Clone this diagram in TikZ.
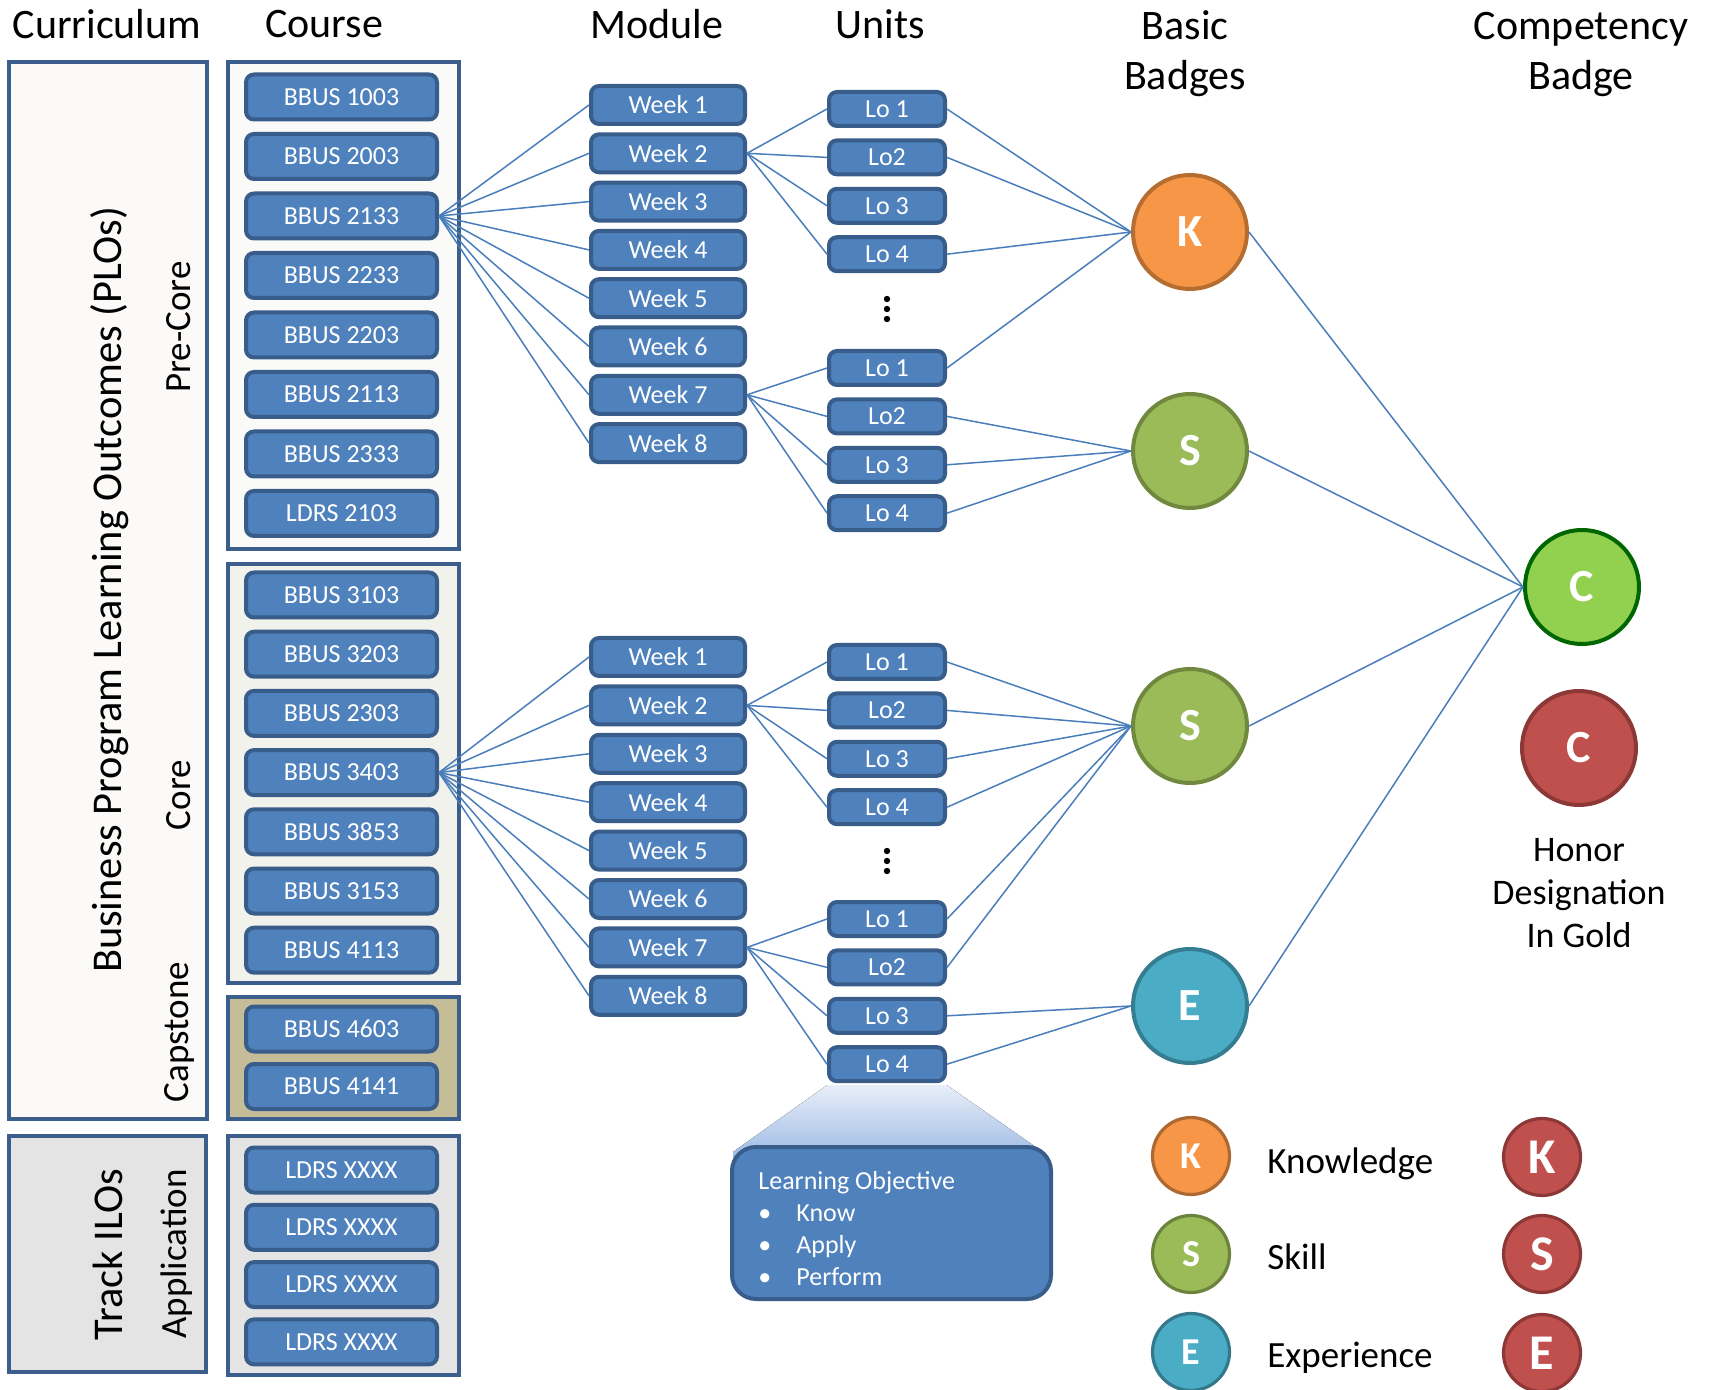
\documentclass[tikz,border=0pt]{standalone}
\usepackage{fontspec}
\setmainfont{Carlito}
\definecolor{boxblue}{HTML}{4F81BD}
\definecolor{boxedge}{HTML}{385D8A}
\definecolor{panedge}{HTML}{3B5E8C}
\definecolor{linkblue}{HTML}{4A7EBB}
\definecolor{kfill}{HTML}{F79646}
\definecolor{kedge}{HTML}{B66D31}
\definecolor{sfill}{HTML}{9BBB59}
\definecolor{sedge}{HTML}{71893F}
\definecolor{efill}{HTML}{4BACC6}
\definecolor{eedge}{HTML}{357D91}
\definecolor{cfill}{HTML}{92D050}
\definecolor{cedge}{HTML}{006600}
\definecolor{rfill}{HTML}{C0504D}
\definecolor{redge}{HTML}{8C3836}
\definecolor{plofill}{HTML}{FBFAF8}
\definecolor{prefill}{HTML}{FAFAF8}
\definecolor{corefill}{HTML}{F2F2EC}
\definecolor{capfill}{HTML}{C4BD97}
\definecolor{greyfill}{HTML}{E4E4E4}
\definecolor{callhi}{HTML}{E8EEF8}
\definecolor{calllo}{HTML}{92B2E2}
\begin{document}
\begin{tikzpicture}[x=0.5pt,y=-0.5pt,
    head/.style={font=\fontsize{21}{25}\selectfont, align=center},
    panel/.style={draw=panedge, line width=2pt},
    item/.style={draw=boxedge, fill=boxblue, line width=2pt, rounded corners=4pt, text=white, font=\fontsize{13}{15}\selectfont},
    course/.style={item, minimum width=95.5pt, minimum height=22.5pt},
    week/.style={item, minimum width=77pt, minimum height=19pt},
    unit/.style={item, minimum width=58pt, minimum height=17pt},
    link/.style={draw=linkblue, line width=0.75pt},
    badge/.style={circle, line width=2pt, text=white, font=\fontsize{23}{23}\selectfont\bfseries, minimum size=57pt, inner sep=0pt},
    mini/.style={circle, line width=1.6pt, text=white, font=\fontsize{19}{19}\selectfont\bfseries, minimum size=38.5pt, inner sep=0pt},
    legtext/.style={font=\fontsize{18.5}{18.5}\selectfont, anchor=base west, inner sep=0pt},
    side/.style={rotate=90, font=\fontsize{21.2}{25}\selectfont},
    subside/.style={side, font=\fontsize{18.5}{22}\selectfont}]
    \useasboundingbox (0,0) rectangle (1710,1390);
    %% headers
    \node[head] (hcur) at (107,24) {Curriculum};
    \node[head] (hcou) at (324,24) {Course};
    \node[head] (hmod) at (657,24) {Module};
    \node[head] (huni) at (880,24) {Units};
    \node[head] (hbas) at (1185,54) {Basic\\Badges};
    \node[head] (hcom) at (1581,54) {Competency\\Badge};
    %% panels
    \draw[panel, fill=plofill] (9,62) rectangle (207,1119);
    \draw[panel, fill=greyfill] (9,1136) rectangle (206,1372);
    \draw[panel, fill=prefill] (228,62) rectangle (459,549);
    \draw[panel, fill=corefill] (228,564) rectangle (459,983);
    \draw[panel, fill=capfill] (228,997) rectangle (459,1119);
    \draw[panel, fill=greyfill] (228,1136) rectangle (459,1375);
    \node[side] (plo) at (110,590) {Business Program Learning Outcomes (PLOs)};
    \node[subside] (pre) at (179,327) {Pre-Core};
    \node[subside] (cor) at (179,795) {Core};
    \node[subside] (cap) at (179,1032) {Capstone};
    \node[side] (ilo) at (108,1255) {Track ILOs};
    \node[subside] (app) at (177,1254) {Application};
    %% courses
    \foreach \t [count=\i, evaluate=\i as \y using 97+59.5*(\i-1)] in {BBUS 1003,BBUS 2003,BBUS 2133,BBUS 2233,BBUS 2203,BBUS 2113,BBUS 2333,LDRS 2103}
        \node[course] (a\i) at (341.5,\y) {\t};
    \foreach \t [count=\i, evaluate=\i as \y using 595+59.2*(\i-1)] in {BBUS 3103,BBUS 3203,BBUS 2303,BBUS 3403,BBUS 3853,BBUS 3153,BBUS 4113}
        \node[course] (b\i) at (341.5,\y) {\t};
    \node[course] (p1) at (341.5,1029) {BBUS 4603};
    \node[course] (p2) at (341.5,1086.5) {BBUS 4141};
    \foreach \i [evaluate=\i as \y using 1170+57.3*(\i-1)] in {1,...,4}
        \node[course] (t\i) at (341.5,\y) {LDRS XXXX};
    %% modules
    \foreach \i [evaluate=\i as \y using 105+48.3*(\i-1), evaluate=\i as \z using 657+48.4*(\i-1)] in {1,...,8} {
        \node[week] (wa\i) at (668,\y) {Week \i};
        \node[week] (wb\i) at (668,\z) {Week \i};
    }
    %% units
    \foreach \i/\t in {1/Lo 1,2/Lo2,3/Lo 3,4/Lo 4} {
        \node[unit] (la\i) at (887,{109+48.4*(\i-1)}) {\t};
        \node[unit] (lb\i) at (887,{368+48.4*(\i-1)}) {\t};
        \node[unit] (lc\i) at (887,{662+48.4*(\i-1)}) {\t};
        \node[unit] (ld\i) at (887,{919+48.4*(\i-1)}) {\t};
    }
    \foreach \y in {299,309,319,851,861,871}
        \fill (887,\y) circle (1.6pt);
    %% badges
    \node[badge, fill=kfill, draw=kedge] (kA) at (1190,232) {K};
    \node[badge, fill=sfill, draw=sedge] (sA) at (1190,451) {S};
    \node[badge, fill=sfill, draw=sedge] (sB) at (1190,726) {S};
    \node[badge, fill=efill, draw=eedge] (eB) at (1190,1006) {E};
    \node[badge, fill=cfill, draw=cedge] (cG) at (1582,587) {C};
    \node[badge, fill=rfill, draw=redge] (cR) at (1579,748) {C};
    \node[font=\fontsize{18}{21.5}\selectfont, align=center] (hon) at (1579,893) {Honor\\Designation\\In Gold};
    %% links
    \foreach \i in {1,...,8} {
        \draw[link] (a3.east) -- (wa\i.west);
        \draw[link] (b4.east) -- (wb\i.west);
    }
    \foreach \i in {1,...,4} {
        \draw[link] (wa2.east) -- (la\i.west);
        \draw[link] (wa7.east) -- (lb\i.west);
        \draw[link] (wb2.east) -- (lc\i.west);
        \draw[link] (wb7.east) -- (ld\i.west);
    }
    \foreach \n in {la1,la2,la4,lb1} \draw[link] (\n.east) -- (kA.west);
    \foreach \n in {lb2,lb3,lb4} \draw[link] (\n.east) -- (sA.west);
    \foreach \n in {lc1,lc2,lc3,lc4,ld1,ld2} \draw[link] (\n.east) -- (sB.west);
    \foreach \n in {ld3,ld4} \draw[link] (\n.east) -- (eB.west);
    \foreach \n in {kA,sA,sB,eB} \draw[link] (\n.east) -- (cG.west);
    %% callout
    \fill[top color=callhi, bottom color=calllo] ([yshift=-1pt]ld4.south west) -- ([yshift=-1pt]ld4.south east) -- (1040,1150) -- (1040,1170) -- (733,1170) -- (733,1152) -- cycle;
    \node[item, rounded corners=12pt, minimum width=159.5pt, minimum height=76pt] (lobox) at (891.5,1223) {};
    \node[anchor=west, align=left, inner sep=0pt, text=white, font=\fontsize{13}{16}\selectfont] (lotext) at (758,1229)
        {Learning Objective\\ \makebox[19pt][l]{\textbullet}Know\\ \makebox[19pt][l]{\textbullet}Apply\\ \makebox[19pt][l]{\textbullet}Perform};
    %% legend
    \foreach \y/\l/\n/\c in {1156/K/k/kfill,1254/S/s/sfill,1352/E/e/efill}
        \node[mini, fill=\c, draw=\c!70!black] (l\n) at (1191,\y) {\l};
    \node[legtext] (tk) at (1267,1173) {Knowledge};
    \node[legtext] (ts) at (1267,1269) {Skill};
    \node[legtext] (te) at (1267,1367) {Experience};
    \foreach \y/\l/\n in {1157/K/k,1254/S/s,1353/E/e}
        \node[mini, fill=rfill, draw=redge, font=\fontsize{25}{25}\selectfont\bfseries] (r\n) at (1542,\y) {\l};
\end{tikzpicture}
\end{document}
